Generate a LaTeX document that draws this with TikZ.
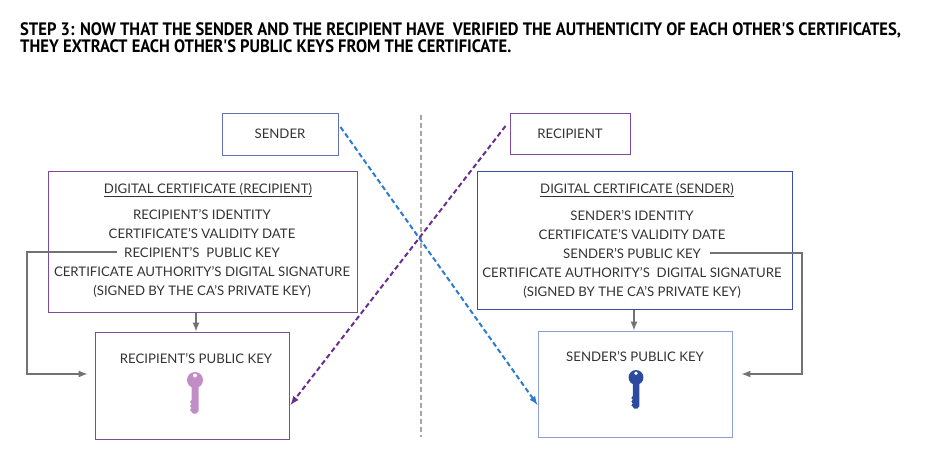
\documentclass[tikz,border=0pt]{standalone}
\usepackage{fontspec}
\setmainfont{Lato}
\newfontfamily\headfont[FakeStretch=0.92]{PT Sans}
\definecolor{purp}{HTML}{7E4A9E}
\definecolor{purpdash}{HTML}{6A2D91}
\definecolor{keypurp}{HTML}{C28CC6}
\definecolor{bluebox}{HTML}{3B4FA8}
\definecolor{lightblue}{HTML}{8E9FD4}
\definecolor{bluedash}{HTML}{2B7BD0}
\definecolor{keyblue}{HTML}{2C4B9E}
\definecolor{txt}{HTML}{333333}
\definecolor{conn}{HTML}{727272}
\newcommand{\KeyHead}{(0,8) circle (8)}
\newcommand{\KeyShaft}{(-3.5,14) -- (3.5,14) -- (3.5,39) -- (1.5,41.5) -- (-2,41.5) -- (-3.5,39.5) -- (-5,38) -- (-3.5,36) -- (-5,34) -- (-3.5,32) -- (-5,30) -- (-3.5,28) -- cycle}
\newcommand{\KeyHole}{(0,3.5) circle (2)}

\begin{document}
\begin{tikzpicture}[x=1pt,y=-1pt,font=\fontsize{13.2}{15}\selectfont\color{txt},
  box/.style={draw,line width=1pt,rectangle,inner sep=0pt},
  conn/.style={draw=conn,line width=2pt,-latex},
  dashconn/.style={line width=2pt,dash pattern=on 5pt off 3pt,-latex}]
\useasboundingbox (0,0) rectangle (927,463);
\node[anchor=base west,align=left,inner sep=0pt,font=\headfont\bfseries\fontsize{18}{17}\selectfont\color{black}] (head) at (20,52)
  {STEP 3: NOW THAT THE SENDER AND THE RECIPIENT HAVE\ \ VERIFIED THE AUTHENTICITY OF EACH OTHER'S CERTIFICATES,\\
   THEY EXTRACT EACH OTHER'S PUBLIC KEYS FROM THE CERTIFICATE.};
\draw[gray!70,line width=1.5pt,dash pattern=on 5pt off 3pt] (421,115) -- (421,437);
\node[box,draw=bluebox!80,minimum width=116pt,minimum height=42pt] (snd) at (280,134) {SENDER};
\node[box,draw=purp,minimum width=120pt,minimum height=41pt] (rcp) at (570,133.5) {RECIPIENT};
\node[box,draw=purp,minimum width=309pt,minimum height=141pt] (lcert) at (202.5,241.5) {};
\node[box,draw=purp,minimum width=194pt,minimum height=107pt] (lkey) at (192,385.5) {};
\node[box,draw=bluebox,minimum width=315pt,minimum height=138pt] (rcert) at (634.5,240) {};
\node[box,draw=lightblue,minimum width=194pt,minimum height=106pt] (rkey) at (635,384) {};
\coordinate (lbend) at (27,0);
\coordinate (rbend) at (802,0);
\node[anchor=base] (lc0) at (208,193) {\underline{DIGITAL CERTIFICATE (RECIPIENT)}};
\node[anchor=base] (lc1) at (202,219) {RECIPIENT'S IDENTITY};
\node[anchor=base] (lc2) at (202,238) {CERTIFICATE'S VALIDITY DATE};
\node[anchor=base] (lc3) at (202,257) {RECIPIENT'S\ \ PUBLIC KEY};
\node[anchor=base] (lc4) at (202,276) {CERTIFICATE AUTHORITY'S DIGITAL SIGNATURE};
\node[anchor=base] (lc5) at (202,295) {(SIGNED BY THE CA'S PRIVATE KEY)};
\node[anchor=base] (rc0) at (637,193) {\underline{DIGITAL CERTIFICATE (SENDER)}};
\node[anchor=base] (rc1) at (632,220) {SENDER'S IDENTITY};
\node[anchor=base] (rc2) at (632,239) {CERTIFICATE'S VALIDITY DATE};
\node[anchor=base] (rc3) at (632,258) {SENDER'S PUBLIC KEY};
\node[anchor=base] (rc4) at (632,277) {CERTIFICATE AUTHORITY'S\ \ DIGITAL SIGNATURE};
\node[anchor=base] (rc5) at (632,296) {(SIGNED BY THE CA'S PRIVATE KEY)};
\node[anchor=base] (lpk) at (196,363) {RECIPIENT'S PUBLIC KEY};
\node[anchor=base] (rpk) at (635,361) {SENDER'S PUBLIC KEY};
\begin{scope}[shift={(195,372)}]
\fill[keypurp] \KeyHead;
\fill[keypurp] \KeyShaft;
\fill[white] \KeyHole;
\end{scope}
\begin{scope}[shift={(636,370)},scale=0.93]
\fill[keyblue] \KeyHead;
\fill[keyblue] \KeyShaft;
\fill[white] \KeyHole;
\end{scope}
\draw[conn] ([xshift=4pt]lkey.north |- lcert.south) -- ([xshift=4pt]lkey.north);
\draw[conn] ([xshift=-1pt]rkey.north |- rcert.south) -- ([xshift=-1pt]rkey.north);
\draw[conn,shorten >=7pt] ([xshift=-4pt]lc3.west) -- (lc3.west -| lbend) |- ([yshift=11.5pt]lkey.west);
\draw[conn,shorten >=9pt] ([xshift=6pt]rc3.east) -- (rc3.east -| rbend) |- ([yshift=10pt]rkey.east);
\draw[dashconn,bluedash] ([xshift=2pt,yshift=7pt]snd.east) -- ([yshift=-21pt]rkey.west);
\draw[dashconn,purpdash] ([xshift=-4pt,yshift=7.5pt]rcp.west) -- ([xshift=1pt,yshift=-19.5pt]lkey.east);
\end{tikzpicture}
\end{document}
